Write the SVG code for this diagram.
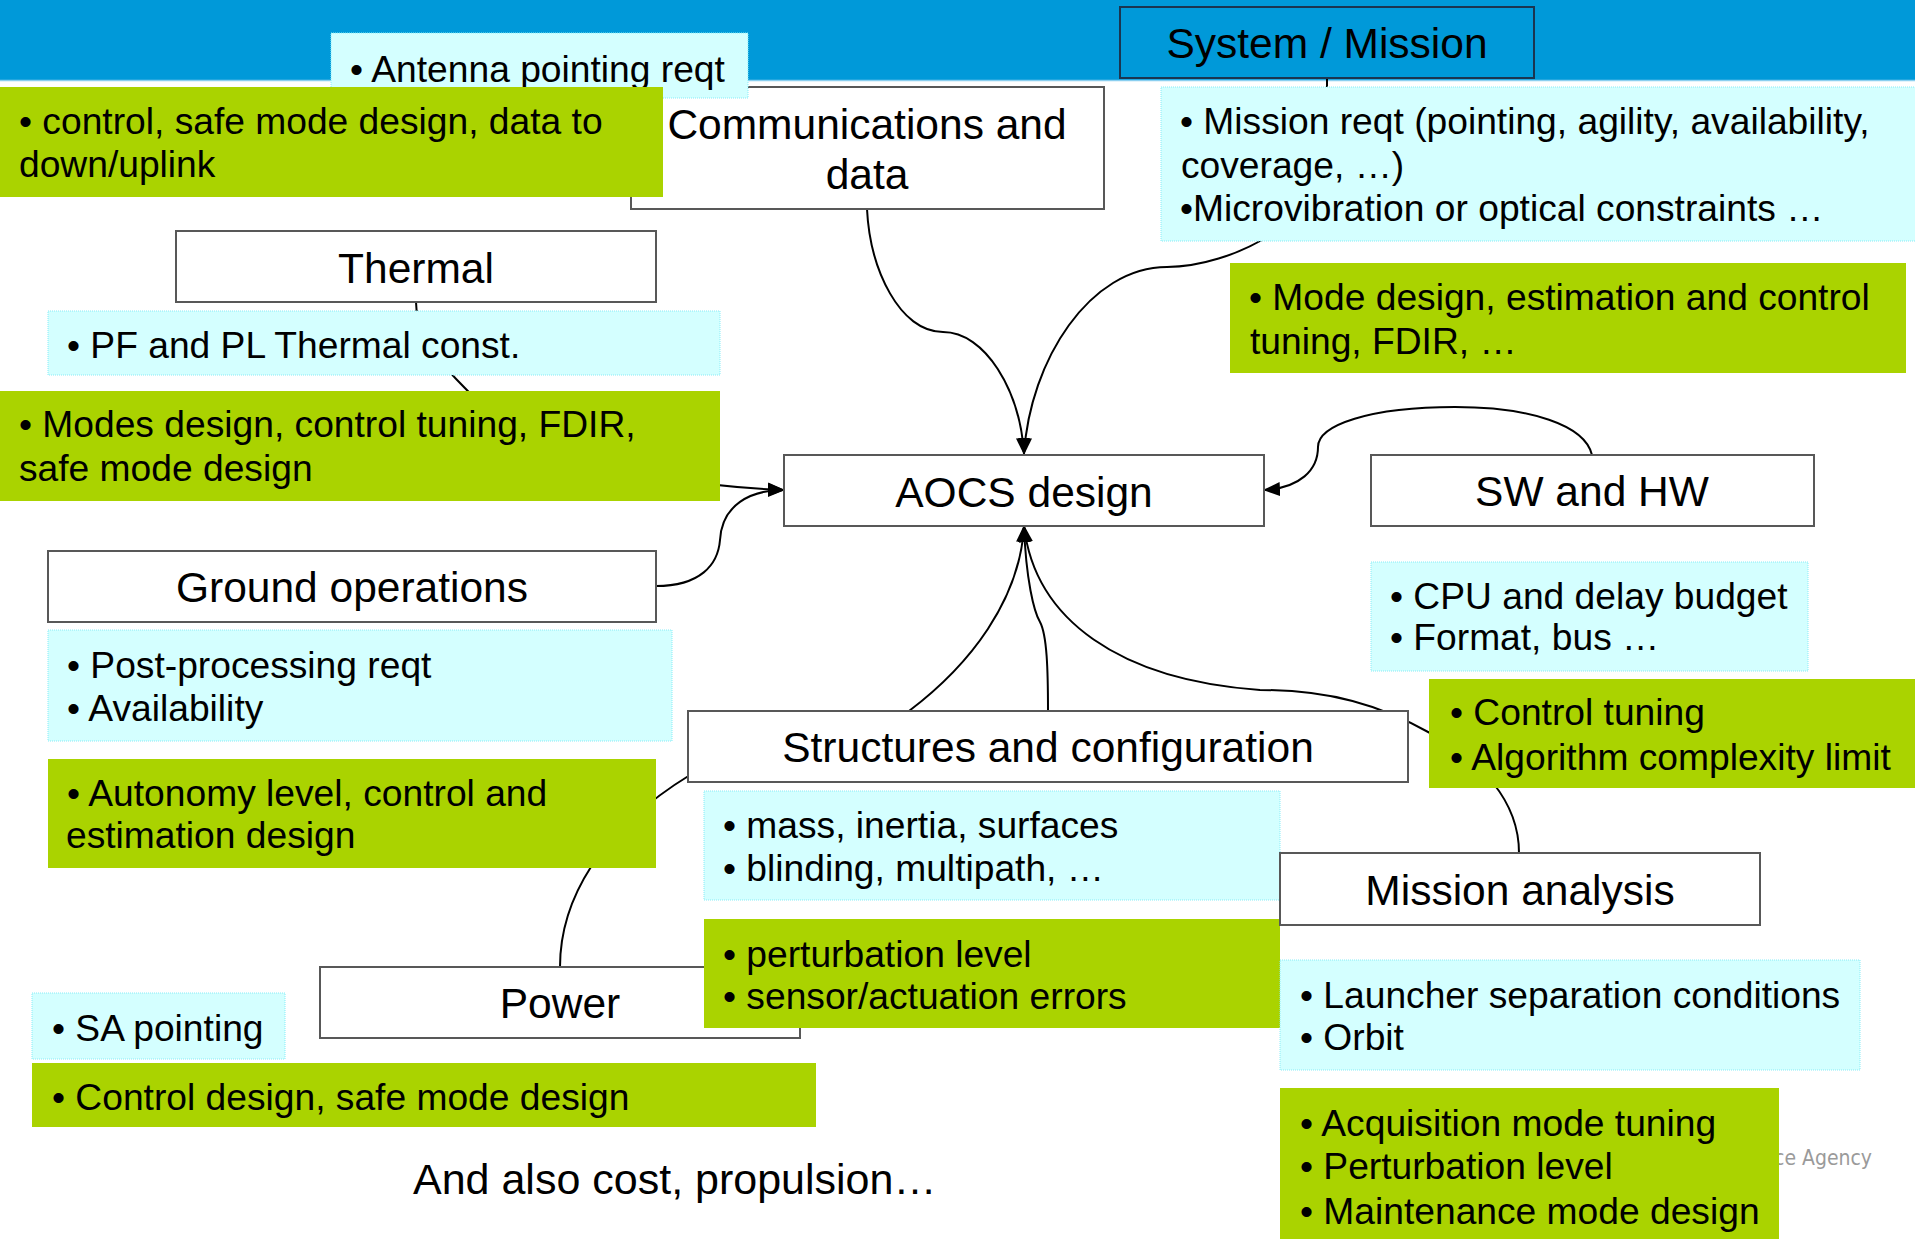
<svg xmlns="http://www.w3.org/2000/svg" width="1915" height="1239" viewBox="0 0 1915 1239">
<defs>
<marker id="arr" markerUnits="userSpaceOnUse" markerWidth="17" markerHeight="14" refX="16" refY="7" orient="auto">
<path d="M0,0 L17,7 L0,14 z" fill="#000"/>
</marker>
<style>
text{font-family:"Liberation Sans",Arial,sans-serif;fill:#000}
.t{font-size:42.5px;text-anchor:middle}
.b{font-size:37.2px}
.box{fill:#fff;stroke:#585858;stroke-width:2}
.cy{fill:#D4FFFF;stroke:#86ECF6;stroke-width:1;stroke-dasharray:1 1}
.gr{fill:#AAD300}
.con{fill:none;stroke:#000;stroke-width:2}
</style>
</defs>
<rect x="0" y="0" width="1915" height="80" fill="#0099D9"/>
<line x1="0" y1="80.5" x2="1915" y2="80.5" stroke="#8ACFF0" stroke-width="1.5"/>
<text x="1872" y="1165" text-anchor="end" style="font-family:'DejaVu Sans',sans-serif;font-size:21px;fill:#9a9a9a" textLength="98" lengthAdjust="spacingAndGlyphs">ce Agency</text>
<g id="connectors">
<path class="con" d="M867 209 C870 270,900 332,943 332 C985 332,1020 390,1024 454" marker-end="url(#arr)"/>
<path class="con" d="M1327 78 L1327 150 C1327 220,1230 267,1167 267 C1090 267,1030 360,1024 454" marker-end="url(#arr)"/>
<path class="con" d="M416 302 C416 340,440 362,460 383 C520 450,650 485,784 490" marker-end="url(#arr)"/>
<path class="con" d="M656 586 C700 586,718 565,720 540 C722 505,750 490,784 490" marker-end="url(#arr)"/>
<path class="con" d="M1592 455 C1585 425,1530 407,1455 407 C1370 407,1318 425,1318 447 C1318 470,1300 488,1264 490" marker-end="url(#arr)"/>
<path class="con" d="M560 967 C560 900,600 830,690 775 C780 730,880 730,909 711 C970 665,1020 600,1024 526" marker-end="url(#arr)"/>
<path class="con" d="M1048 711 C1048 670,1047 635,1040 622 C1034 612,1026 580,1024 526" marker-end="url(#arr)"/>
<path class="con" d="M1519 853 C1519 800,1480 760,1430 733 C1380 705,1330 690,1260 690 C1120 680,1035 620,1024 526" marker-end="url(#arr)"/>
</g>
<g id="comm">
<rect class="box" x="631" y="87" width="473" height="122"/>
<text class="t" x="867" y="139">Communications and</text>
<text class="t" x="867" y="189">data</text>
</g>
<g id="antenna">
<rect class="cy" x="331" y="33" width="417" height="65"/>
<text class="b" x="350" y="82">• Antenna pointing reqt</text>
</g>
<g id="comm-green">
<rect class="gr" x="0" y="87" width="663" height="110"/>
<text class="b" x="19" y="134">• control, safe mode design, data to</text>
<text class="b" x="19" y="177">down/uplink</text>
</g>
<g id="system">
<rect x="1120" y="7" width="414" height="71" fill="#0099D9" stroke="#1B3550" stroke-width="2"/>
<text class="t" x="1327" y="58">System / Mission</text>
</g>
<g id="system-cyan">
<rect class="cy" x="1161" y="87" width="760" height="154"/>
<text class="b" x="1180" y="134">• Mission reqt (pointing, agility, availability,</text>
<text class="b" x="1181" y="178">coverage, …)</text>
<text class="b" x="1180" y="221">•Microvibration or optical constraints …</text>
</g>
<g id="system-green">
<rect class="gr" x="1230" y="263" width="676" height="110"/>
<text class="b" x="1249" y="310">• Mode design, estimation and control</text>
<text class="b" x="1250" y="354">tuning, FDIR, …</text>
</g>
<g id="thermal">
<rect class="box" x="176" y="231" width="480" height="71"/>
<text class="t" x="416" y="283">Thermal</text>
</g>
<g id="thermal-cyan">
<rect class="cy" x="48" y="311" width="672" height="64"/>
<text class="b" x="67" y="358">• PF and PL Thermal const.</text>
</g>
<g id="thermal-green">
<rect class="gr" x="0" y="391" width="720" height="110"/>
<text class="b" x="19" y="437">• Modes design, control tuning, FDIR,</text>
<text class="b" x="19" y="481">safe mode design</text>
</g>
<g id="aocs">
<rect class="box" x="784" y="455" width="480" height="71"/>
<text class="t" x="1024" y="507">AOCS design</text>
</g>
<g id="swhw">
<rect class="box" x="1371" y="455" width="443" height="71"/>
<text class="t" x="1592" y="506">SW and HW</text>
</g>
<g id="swhw-cyan">
<rect class="cy" x="1371" y="562" width="437" height="109"/>
<text class="b" x="1390" y="609">• CPU and delay budget</text>
<text class="b" x="1390" y="650">• Format, bus …</text>
</g>
<g id="swhw-green">
<rect class="gr" x="1429" y="679" width="486" height="109"/>
<text class="b" x="1450" y="725">• Control tuning</text>
<text class="b" x="1450" y="770">• Algorithm complexity limit</text>
</g>
<g id="ground">
<rect class="box" x="48" y="551" width="608" height="71"/>
<text class="t" x="352" y="602">Ground operations</text>
</g>
<g id="ground-cyan">
<rect class="cy" x="48" y="630" width="624" height="111"/>
<text class="b" x="67" y="678">• Post-processing reqt</text>
<text class="b" x="67" y="721">• Availability</text>
</g>
<g id="ground-green">
<rect class="gr" x="48" y="759" width="608" height="109"/>
<text class="b" x="67" y="806">• Autonomy level, control and</text>
<text class="b" x="66" y="848">estimation design</text>
</g>
<g id="structures">
<rect class="box" x="688" y="711" width="720" height="71"/>
<text class="t" x="1048" y="762">Structures and configuration</text>
</g>
<g id="structures-cyan">
<rect class="cy" x="704" y="791" width="576" height="109"/>
<text class="b" x="723" y="838">• mass, inertia, surfaces</text>
<text class="b" x="723" y="881">• blinding, multipath, …</text>
</g>
<g id="power">
<rect class="box" x="320" y="967" width="480" height="71"/>
<text class="t" x="560" y="1018">Power</text>
</g>
<g id="structures-green">
<rect class="gr" x="704" y="919" width="576" height="109"/>
<text class="b" x="723" y="967">• perturbation level</text>
<text class="b" x="723" y="1009">• sensor/actuation errors</text>
</g>
<g id="power-cyan">
<rect class="cy" x="32" y="993" width="253" height="66"/>
<text class="b" x="52" y="1041">• SA pointing</text>
</g>
<g id="power-green">
<rect class="gr" x="32" y="1063" width="784" height="64"/>
<text class="b" x="52" y="1110">• Control design, safe mode design</text>
</g>
<g id="mission">
<rect class="box" x="1280" y="853" width="480" height="72"/>
<text class="t" x="1520" y="905">Mission analysis</text>
</g>
<g id="mission-cyan">
<rect class="cy" x="1280" y="960" width="580" height="110"/>
<text class="b" x="1300" y="1008">• Launcher separation conditions</text>
<text class="b" x="1300" y="1050">• Orbit</text>
</g>
<g id="mission-green">
<rect class="gr" x="1280" y="1088" width="499" height="151"/>
<text class="b" x="1300" y="1136">• Acquisition mode tuning</text>
<text class="b" x="1300" y="1179">• Perturbation level</text>
<text class="b" x="1300" y="1224">• Maintenance mode design</text>
</g>
<text x="413" y="1194" style="font-size:43px">And also cost, propulsion…</text>
</svg>
